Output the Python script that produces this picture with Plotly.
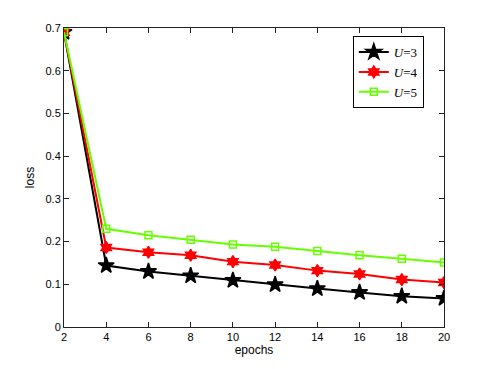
import plotly.graph_objects as go

epochs = [2, 4, 6, 8, 10, 12, 14, 16, 18, 20]
loss_u3 = [0.69, 0.144, 0.130, 0.120, 0.109, 0.099, 0.090, 0.081, 0.072, 0.067]
loss_u4 = [0.69, 0.186, 0.175, 0.168, 0.153, 0.145, 0.132, 0.124, 0.111, 0.104]
loss_u5 = [0.69, 0.230, 0.215, 0.204, 0.193, 0.188, 0.178, 0.168, 0.160, 0.151]

fig = go.Figure()

series = [
    ("<i>U</i>=3", loss_u3, "black", "star", 12),
    ("<i>U</i>=4", loss_u4, "red", "hexagram", 9),
    ("<i>U</i>=5", loss_u5, "#66ff00", "square-open", 7),
]
for name, ys, color, symbol, size in series:
    fig.add_trace(go.Scatter(
        x=epochs, y=ys, name=name, mode="lines+markers",
        line=dict(color=color, width=2),
        marker=dict(symbol=symbol, size=size, color=color,
                    line=dict(color=color, width=1.5))
    ))

axis_common = dict(
    showline=True, linecolor="#222", linewidth=1, mirror="ticks",
    ticks="inside", ticklen=5, tickcolor="#222",
    showgrid=False, zeroline=False, automargin=False,
    tickfont=dict(family="Liberation Sans, Arial", size=11, color="black"),
)

# page body has an 8px margin, so margins are shifted to compensate
fig.update_layout(
    width=491, height=369,
    paper_bgcolor="white", plot_bgcolor="white",
    margin=dict(l=56, r=55, t=20, b=50, autoexpand=False),
    xaxis=dict(range=[2, 20], tickvals=epochs,
               title=dict(text="epochs", standoff=2,
                          font=dict(family="Liberation Sans, Arial", size=12,
                                    color="black")),
               **axis_common),
    yaxis=dict(range=[0, 0.7], dtick=0.1,
               title=dict(text="loss", standoff=8,
                          font=dict(family="Liberation Sans, Arial", size=12,
                                    color="black")),
               **axis_common),
    legend=dict(x=0.76, y=0.973, xanchor="left", yanchor="top",
                bordercolor="black", borderwidth=1, bgcolor="white",
                font=dict(family="Liberation Serif, DejaVu Serif", size=13,
                          color="black"),
                tracegroupgap=0, itemwidth=30),
    showlegend=True,
)

fig.write_html("out.html")
